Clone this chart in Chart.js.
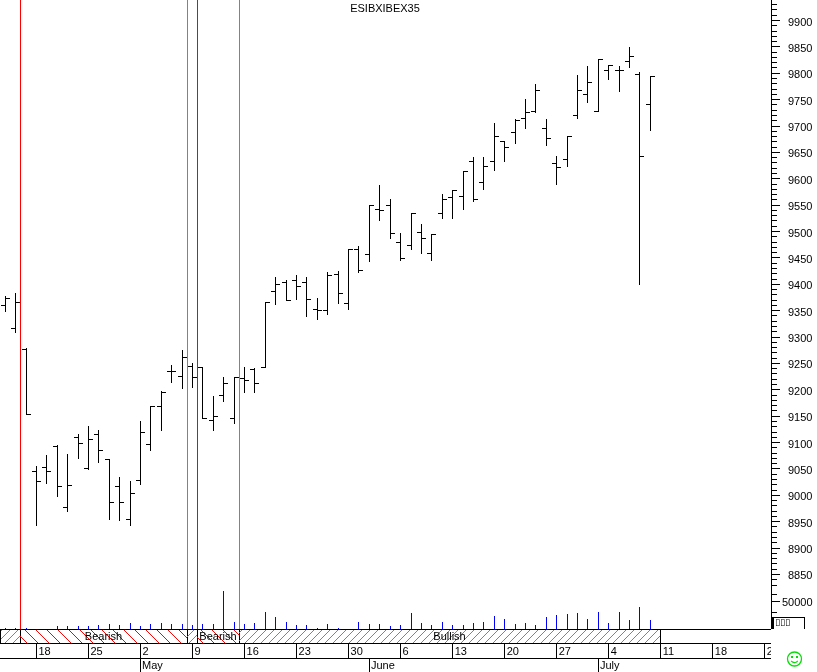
<!DOCTYPE html>
<html lang="en">

<head>
    <meta charset="UTF-8">
    <title>ESIBXIBEX35</title>
    <style>
        body {
            margin: 0;
            background: white;
        }

        canvas {
            display: block;
        }
    </style>
</head>

<body>
    <canvas id="myChart" width="817" height="672"></canvas>

    <script src="https://cdn.jsdelivr.net/npm/chart.js"></script>
    <script>
        const chartTitle = 'ESIBXIBEX35';

        // trading days, the last ones have no bar yet
        const dates = [
            'Apr 13', 'Apr 14', 'Apr 15', 'Apr 18', 'Apr 19', 'Apr 20', 'Apr 21', 'Apr 22',
            'Apr 25', 'Apr 26', 'Apr 27', 'Apr 28', 'Apr 29', 'May 2', 'May 3', 'May 4', 'May 5', 'May 6',
            'May 9', 'May 10', 'May 11', 'May 12', 'May 13', 'May 16', 'May 17', 'May 18', 'May 19', 'May 20',
            'May 23', 'May 24', 'May 25', 'May 26', 'May 27', 'May 30', 'May 31', 'Jun 1', 'Jun 2', 'Jun 3',
            'Jun 6', 'Jun 7', 'Jun 8', 'Jun 9', 'Jun 10', 'Jun 13', 'Jun 14', 'Jun 15', 'Jun 16', 'Jun 17',
            'Jun 20', 'Jun 21', 'Jun 22', 'Jun 23', 'Jun 24', 'Jun 27', 'Jun 28', 'Jun 29', 'Jun 30', 'Jul 1',
            'Jul 4', 'Jul 5', 'Jul 6', 'Jul 7', 'Jul 8', 'Jul 11', 'Jul 12', 'Jul 13', 'Jul 14', 'Jul 15',
            'Jul 18', 'Jul 19', 'Jul 20', 'Jul 21', 'Jul 22', 'Jul 25'
        ];
        const weekTicks = ['Apr 18', 'Apr 25', 'May 2', 'May 9', 'May 16', 'May 23', 'May 30', 'Jun 6', 'Jun 13', 'Jun 20', 'Jun 27', 'Jul 4', 'Jul 11', 'Jul 18', 'Jul 25'];
        const monthTicks = ['May 2', 'Jun 1', 'Jul 1'];
        const monthNames = ['May', 'June', 'July'];

        const opens = [9359, 9317, 9276, 9046, 9052, 9093, 8976, 9109, 9051, 9115, 9067, 9016, 8955, 9029, 9096, 9168, 9234, 9225, 9245, 9242, 9141, 9189, 9145, 9221, 9238, 9242,
            9386, 9403, 9408, 9403, 9353, 9350, 9418, 9363, 9465, 9456, 9541, 9549, 9480, 9473, 9499, 9458, 9535, 9564, 9566, 9632, 9592, 9632, 9670, 9687, 9715, 9727, 9695, 9628, 9636, 9719, 9759, 9728, 9806, 9805, 9823, 9798, 9740];
        const highs = [9377, 9382, 9278, 9055, 9075, 9094, 9077, 9115, 9130, 9123, 9067, 9033, 9026, 9140, 9168, 9196, 9246, 9274, 9249, 9242, 9187, 9223, 9223, 9242, 9240, 9365,
            9412, 9407, 9416, 9412, 9374, 9422, 9425, 9465, 9471, 9549, 9587, 9560, 9497, 9535, 9513, 9494, 9571, 9577, 9614, 9641, 9640, 9704, 9670, 9712, 9751, 9778, 9712, 9643, 9681, 9795, 9812, 9827, 9814, 9812, 9848, 9801, 9793];
        const lows = [9349, 9309, 9154, 8942, 9023, 8998, 8970, 9070, 9048, 9063, 8955, 8953, 8942, 9021, 9084, 9123, 9213, 9203, 9205, 9145, 9122, 9178, 9137, 9194, 9194, 9242,
            9362, 9369, 9372, 9338, 9334, 9343, 9364, 9353, 9422, 9444, 9520, 9487, 9445, 9465, 9458, 9446, 9525, 9525, 9542, 9556, 9580, 9616, 9633, 9666, 9696, 9725, 9664, 9590, 9624, 9715, 9745, 9728, 9789, 9766, 9810, 9400, 9691];
        const closes = [9373, 9365, 9154, 9026, 9046, 9016, 9018, 9098, 9105, 9084, 8986, 8986, 9003, 9120, 9168, 9194, 9234, 9262, 9223, 9145, 9149, 9211, 9223, 9217, 9211, 9365,
            9399, 9369, 9395, 9371, 9350, 9416, 9382, 9465, 9427, 9549, 9539, 9497, 9448, 9534, 9486, 9494, 9560, 9577, 9613, 9561, 9623, 9681, 9659, 9710, 9725, 9768, 9676, 9621, 9681, 9768, 9782, 9827, 9814, 9806, 9831, 9643, 9793];
        const volumes = [1800, 1800, 1800, 0, 0, 3700, 3700, 3700, 3700, 5500, 7300, 5500, 9200, 3700, 7300, 9200, 7300, 7300, 5500, 7300, 7300, 67800, 11000, 7300, 9200, 29300,
            20000, 11000, 5500, 5500, 1800, 7300, 1800, 0, 11000, 7300, 7300, 3700, 5500, 27500, 9200, 5500, 11000, 5500, 5500, 9200, 11000, 22000, 16500, 7300, 9200, 5500, 20000, 23800, 25600, 27500, 16500, 29300, 9200, 29300, 14700, 38500, 14700];

        const priceLabels = [8850, 8900, 8950, 9000, 9050, 9100, 9150, 9200, 9250, 9300, 9350, 9400, 9450, 9500, 9550, 9600, 9650, 9700, 9750, 9800, 9850, 9900];
        const priceTickRange = [8830, 9930];
        const volumeLabels = [50000];
        const volumeMinorTicks = [30000, 62000];

        // vertical signal lines, value is the category position
        const signalAt = [1.5, 17.5, 18.5, 22.5];
        const signalColor = ['#ff0000', '#00e000', '#ff0000', '#00e000'];

        // bottom strip
        const bandEdges = [-0.5, 1.5, 17.5, 18.5, 22.5, 63];
        const bandKinds = ['bull', 'bear', 'bull', 'bear', 'bull'];
        const bandLabels = ['', 'Bearish', '', 'Bearish', 'Bullish'];

        const uiFont = '11px "Liberation Sans", Arial, sans-serif';
        const GREEN = '#00e000';

        function hatch(size, color, rising) {
            const c = document.createElement('canvas');
            c.width = size;
            c.height = size;
            const g = c.getContext('2d');
            g.fillStyle = color;
            for (let k = 0; k < size; k++) {
                g.fillRect(k, rising ? size - 1 - k : k, 1, 1);
            }
            return c;
        }

        //no OHLC type in chart.js, so a bar controller that draws 1px stems and the open/close ticks
        class CrispBarController extends Chart.BarController {
            draw() {
                const ctx = this.chart.ctx;
                const ds = this.getDataset();
                const meta = this.getMeta();
                ctx.save();
                ctx.fillStyle = ds.borderColor;
                meta.data.forEach(function (bar, i) {
                    const x = Math.floor(meta.iScale.getPixelForValue(i));
                    const top = Math.floor(Math.min(bar.y, bar.base));
                    const bottom = Math.floor(Math.max(bar.y, bar.base));
                    ctx.fillRect(x, top, 1, bottom - top + 1);
                    if (ds.openValues) {
                        ctx.fillRect(x - 4, Math.floor(meta.vScale.getPixelForValue(ds.openValues[i])), 4, 1);
                        ctx.fillRect(x + 1, Math.floor(meta.vScale.getPixelForValue(ds.closeValues[i])), 4, 1);
                    }
                });
                ctx.restore();
            }
        }
        CrispBarController.id = 'crispBar';
        CrispBarController.defaults = Chart.BarController.defaults;
        CrispBarController.overrides = Chart.BarController.overrides;
        Chart.register(CrispBarController);

        const signalLines = {
            id: 'signalLines',
            beforeDatasetsDraw(chart) {
                const ctx = chart.ctx;
                const xs = chart.scales.x;
                signalAt.forEach(function (v, i) {
                    ctx.fillStyle = signalColor[i];
                    ctx.fillRect(Math.floor(xs.getPixelForValue(v)), 0, 1, chart.chartArea.bottom);
                });
            }
        };

        const chartFrame = {
            id: 'chartFrame',
            afterDraw(chart) {
                const ctx = chart.ctx;
                const xs = chart.scales.x;
                const ys = chart.scales.y;
                const vs = chart.scales.yVolume;
                const px = v => Math.floor(xs.getPixelForValue(v));
                const bandTop = 629, bandBottom = 643, dateBottom = 658, axisX = 771;
                const patterns = {
                    bull: ctx.createPattern(hatch(8, GREEN, true), 'repeat'),
                    bear: ctx.createPattern(hatch(11, '#ff0000', false), 'repeat')
                };

                ctx.save();
                ctx.fillStyle = 'white';
                ctx.fillRect(axisX, bandTop + 1, 817 - axisX, 672 - bandTop);

                // band
                bandKinds.forEach(function (kind, i) {
                    const left = px(bandEdges[i]), right = px(bandEdges[i + 1]);
                    ctx.fillStyle = patterns[kind];
                    ctx.fillRect(left, bandTop, right - left, bandBottom - bandTop);
                    ctx.fillStyle = 'black';
                    ctx.fillRect(right, bandTop, 1, bandBottom - bandTop);
                });
                ctx.fillStyle = 'black';
                ctx.fillRect(0, bandTop, 1, bandBottom - bandTop);
                ctx.fillRect(0, bandTop, axisX, 1);
                ctx.fillRect(0, bandBottom, axisX, 1);
                ctx.fillRect(0, dateBottom, axisX, 1);

                ctx.font = uiFont;
                ctx.textBaseline = 'middle';
                ctx.textAlign = 'center';
                bandLabels.forEach(function (label, i) {
                    if (label) {
                        ctx.fillText(label, (px(bandEdges[i]) + px(bandEdges[i + 1])) / 2, 637);
                    }
                });

                // week dividers and months
                ctx.textAlign = 'left';
                weekTicks.forEach(function (d) {
                    ctx.fillRect(px(dates.indexOf(d)), bandBottom, 1, dateBottom - bandBottom);
                });
                monthTicks.forEach(function (d, i) {
                    const x = px(dates.indexOf(d));
                    ctx.fillRect(x, dateBottom, 1, 672 - dateBottom);
                    ctx.fillText(monthNames[i], x + 2, 666);
                });

                // right axis, ticks get two lengths
                ctx.fillRect(axisX, 0, 1, bandTop);
                for (let v = priceTickRange[0]; v <= priceTickRange[1]; v += 10) {
                    const len = priceLabels.includes(v) ? 8 : 5;
                    ctx.fillRect(axisX, Math.floor(ys.getPixelForValue(v)), len + 1, 1);
                }
                volumeMinorTicks.forEach(function (v) {
                    ctx.fillRect(axisX, Math.floor(vs.getPixelForValue(v)), 6, 1);
                });
                volumeLabels.forEach(function (v) {
                    const y = Math.floor(vs.getPixelForValue(v));
                    ctx.fillRect(axisX, y, 9, 1);
                    ctx.fillText(String(v), 782, y + 2);
                });

                // small box at the end of the axis
                ctx.fillRect(772, 617, 2, 12);
                ctx.fillRect(773, 617, 32, 1);
                ctx.fillRect(804, 617, 1, 12);
                ctx.font = '9px "DejaVu Sans"';
                ctx.fillText('▯▯▯', 775, 623);

                ctx.font = uiFont;
                ctx.textAlign = 'center';
                ctx.fillText(chartTitle, 385, 9);

                // smiley
                ctx.strokeStyle = GREEN;
                ctx.lineWidth = 1.3;
                ctx.beginPath();
                ctx.arc(794.5, 659, 7, 0, Math.PI * 2);
                ctx.stroke();
                ctx.beginPath();
                ctx.arc(794.5, 658.5, 4, 0.2 * Math.PI, 0.8 * Math.PI);
                ctx.stroke();
                ctx.fillStyle = GREEN;
                ctx.fillRect(791, 656, 2, 2);
                ctx.fillRect(796, 656, 2, 2);
                ctx.restore();
            }
        };

        const myChart = new Chart(document.getElementById('myChart'), {
            data: {
                labels: dates,
                datasets: [{
                    type: 'crispBar',
                    label: chartTitle,
                    data: lows.map((low, i) => [low, highs[i]]),
                    openValues: opens,
                    closeValues: closes,
                    borderColor: 'black',
                    yAxisID: 'y',
                    grouped: false
                }, {
                    type: 'crispBar',
                    label: 'Volume',
                    data: volumes,
                    borderColor: '#0000ff',
                    yAxisID: 'yVolume',
                    grouped: false
                }]
            },
            options: {
                responsive: false,
                animation: false,
                layout: { padding: 0 },
                plugins: {
                    legend: { display: false },
                    tooltip: { enabled: false }
                },
                scales: {
                    x: {
                        type: 'category',
                        offset: true,
                        border: { display: false },
                        grid: { display: false, drawTicks: false },
                        afterFit: function (scale) {
                            scale.height = 43;
                            scale.paddingLeft = 0;
                            scale.paddingRight = 0;
                        },
                        ticks: {
                            autoSkip: false,
                            maxRotation: 0,
                            minRotation: 0,
                            align: 'start',
                            padding: 16,
                            labelOffset: 2,
                            color: 'black',
                            font: { family: '"Liberation Sans"', size: 11 },
                            callback: function (value, index) {
                                return weekTicks.includes(dates[index]) ? dates[index].split(' ')[1] : '';
                            }
                        }
                    },
                    y: {
                        type: 'linear',
                        position: 'right',
                        min: 8746.6,
                        max: 9938.85,
                        border: { display: false },
                        grid: { drawOnChartArea: false, drawTicks: true, tickLength: 8, tickColor: 'transparent' },
                        afterFit: function (scale) {
                            scale.width = 47;
                            scale.paddingTop = 0;
                            scale.paddingBottom = 0;
                        },
                        afterBuildTicks: function (scale) {
                            const t = [];
                            for (let v = priceTickRange[0]; v <= priceTickRange[1]; v += 10) {
                                t.push({ value: v });
                            }
                            scale.ticks = t;
                        },
                        ticks: {
                            autoSkip: false,
                            padding: 10,
                            labelOffset: 2,
                            color: 'black',
                            font: { family: '"Liberation Sans"', size: 11 },
                            callback: function (value) {
                                return priceLabels.includes(value) ? String(value) : '';
                            }
                        }
                    },
                    yVolume: {
                        type: 'linear',
                        display: false,
                        min: 0,
                        max: 1143636
                    }
                }
            },
            plugins: [signalLines, chartFrame]
        });
    </script>
</body>

</html>
